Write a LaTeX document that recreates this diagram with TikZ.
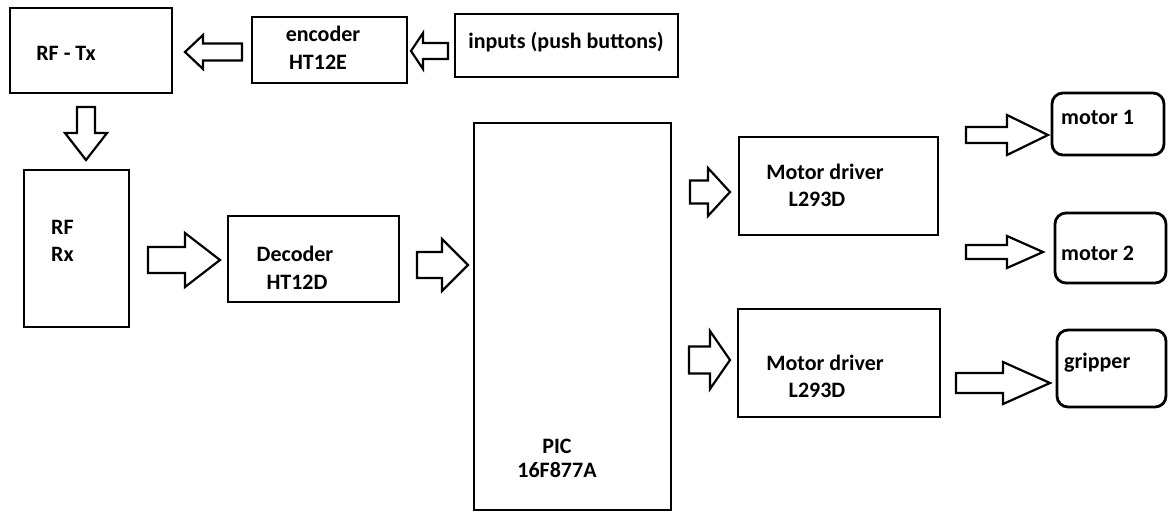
\documentclass[tikz,border=0pt]{standalone}
\usepackage{fontspec}
\setmainfont{Carlito}
\usetikzlibrary{fit}
% horizontal block arrow: tail x, head-base x, tip x, centre y, shaft half, head half
\newcommand{\hblk}[7]{\draw[blk] (#2,#5-#6) -- (#3,#5-#6) -- (#3,#5-#7) -- (#4,#5) -- (#3,#5+#7) -- (#3,#5+#6) -- (#2,#5+#6) -- cycle;}
% vertical block arrow: tail y, head-base y, tip y, centre x, shaft half, head half
\newcommand{\vblk}[7]{\draw[blk] (#5-#6,#2) -- (#5-#6,#3) -- (#5-#7,#3) -- (#5,#4) -- (#5+#7,#3) -- (#5+#6,#3) -- (#5+#6,#2) -- cycle;}
\begin{document}
\begin{tikzpicture}[x=1pt,y=-1pt,
  box/.style={draw=black,line width=2.8pt,inner sep=0pt},
  rbox/.style={box,rounded corners=11pt},
  blk/.style={draw=black,line width=2.2pt,line join=miter,fill=white},
  txt/.style={inner sep=0pt,font=\fontsize{22}{26}\selectfont\bfseries,text=black}]
\path[use as bounding box] (0,0) rectangle (1169,512);
% boxes
\node[box,fit={(10,8) (172,93)}] (tx) {};
\node[box,fit={(252,17) (407,83)}] (enc) {};
\node[box,fit={(455,14) (678,77)}] (inp) {};
\node[box,fit={(24,170) (129,327)}] (rx) {};
\node[box,fit={(228,216) (399,302)}] (dec) {};
\node[box,fit={(474,123) (671,510)}] (pic) {};
\node[box,fit={(739,137) (938,235)}] (md1) {};
\node[box,fit={(738,309) (940,417)}] (md2) {};
\node[rbox,fit={(1052,93) (1164,155)}] (m1) {};
\node[rbox,fit={(1055,213) (1166,283)}] (m2) {};
\node[rbox,fit={(1057,330) (1166,407)}] (grip) {};
% texts
\node[txt] (txt-tx) at (66,53) {RF - Tx};
\node[txt] (txt-enc1) at (323,34) {encoder};
\node[txt] (txt-enc2) at (318,62) {HT12E};
\node[txt] (txt-inp) at (566,42) {inputs (push buttons)};
\node[txt,anchor=west] (txt-rx1) at (51,227) {RF};
\node[txt,anchor=west] (txt-rx2) at (51,254) {Rx};
\node[txt] (txt-dec1) at (295,254) {Decoder};
\node[txt] (txt-dec2) at (297,282) {HT12D};
\node[txt] (txt-pic1) at (557,446) {PIC};
\node[txt] (txt-pic2) at (557,470) {16F877A};
\node[txt] (txt-md1a) at (825,172) {Motor driver};
\node[txt] (txt-md1b) at (817,199) {L293D};
\node[txt] (txt-md2a) at (825,363) {Motor driver};
\node[txt] (txt-md2b) at (817,390) {L293D};
\node[txt,anchor=west] (txt-m1) at (1061,117) {motor 1};
\node[txt,anchor=west] (txt-m2) at (1061,253) {motor 2};
\node[txt,anchor=west] (txt-grip) at (1064,363) {gripper};
% block arrows
\hblk{a1}{242}{203}{185}{52}{8.5}{17}
\hblk{a2}{448}{423}{411}{51}{8}{18}
\vblk{a3}{107}{133}{160}{86}{9}{21}
\hblk{a4}{148}{185}{220}{260}{13}{27}
\hblk{a5}{417}{442}{468}{265}{13}{26}
\hblk{a6}{690}{708}{730}{192}{11.5}{24}
\hblk{a7}{689}{710}{730}{360}{13.5}{29}
\hblk{a8}{966}{1007}{1048}{135}{8}{20}
\hblk{a9}{966}{1007}{1043}{252}{7}{16}
\hblk{a10}{956}{1003}{1050}{383}{10}{21}
\end{tikzpicture}
\end{document}
